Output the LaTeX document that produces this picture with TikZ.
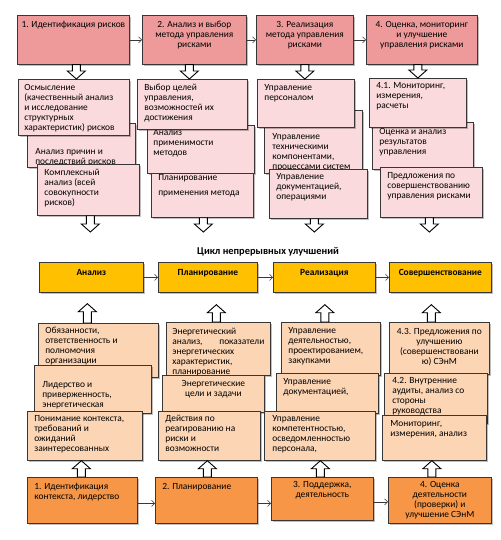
\documentclass[tikz,border=0pt]{standalone}
\usepackage{fontspec}
\setmainfont{Carlito}
\usetikzlibrary{shadows,arrows.meta,calc}
\definecolor{redbox}{RGB}{238,154,154}
\definecolor{pinkbox}{RGB}{250,218,220}
\definecolor{peachbox}{RGB}{252,213,180}
\definecolor{yellowbox}{RGB}{255,192,0}
\definecolor{orangebox}{RGB}{247,150,70}
\definecolor{bordc}{RGB}{55,55,55}
\tikzset{
  base/.style={draw=bordc, line width=0.7pt, anchor=north west,
    drop shadow={shadow xshift=1.5pt, shadow yshift=-1.5pt, fill=black, opacity=0.25},
    font=\fontsize{9.4}{10}\selectfont},
  redb/.style={base, fill=redbox},
  pinkb/.style={base, fill=pinkbox},
  peachb/.style={base, fill=peachbox},
  yellowb/.style={base, fill=yellowbox, font=\fontsize{9.4}{10}\selectfont\bfseries},
  orangeb/.style={base, fill=orangebox},
  blockarrow/.style={draw=black, fill=white, line width=0.9pt, line join=miter},
  smallarrow/.style={draw=bordc, line width=0.6pt, -{Straight Barb[length=3pt,width=6pt]}},
}
% #1 style, #2 name, #3 x, #4 y, #5 w, #6 h, #7 side inset, #8 text, #9 top pad
\newcommand\bx[9]{\node[#1, inner xsep=#7pt, inner ysep=0pt] (#2) at (#3,#4)
  {\parbox[c][#6pt][t]{\dimexpr #5pt-#7pt-#7pt\relax}{\vspace*{#9pt}\raggedright\strut#8}};}
\newcommand\barrdown[2]{\draw[blockarrow] let \p1=(#1), \p2=(#2) in
  (\x1-4pt,\y1) -- (\x1+4pt,\y1) -- (\x1+4pt,\y2+8pt) -- (\x1+9pt,\y2+8pt) -- (\x1,\y2)
  -- (\x1-9pt,\y2+8pt) -- (\x1-4pt,\y2+8pt) -- cycle;}
\newcommand\barrup[2]{\draw[blockarrow] let \p1=(#1), \p2=(#2) in
  (\x1-4pt,\y1) -- (\x1+4pt,\y1) -- (\x1+4pt,\y2-8pt) -- (\x1+9pt,\y2-8pt) -- (\x1,\y2)
  -- (\x1-9pt,\y2-8pt) -- (\x1-4pt,\y2-8pt) -- cycle;}
\begin{document}
\begin{tikzpicture}[x=1pt,y=-1pt]
\useasboundingbox[fill=white] (0,0) rectangle (500,540);
% ---- top red row
\bx{redb}{R1}{17}{15}{112}{49}{3}{\centering 1. Идентификация рисков}{5.4}
\bx{redb}{R2}{142}{15}{104}{49}{3}{\centering 2. Анализ и выбор\\ метода управления\\ рисками}{5.4}
\bx{redb}{R3}{256}{15}{97}{49}{3}{\centering 3. Реализация\\ метода управления\\ рисками}{5.4}
\bx{redb}{R4}{366}{15}{111}{49}{3}{\centering 4. Оценка, мониторинг\\ и улучшение\\ управления рисками}{5.4}
\draw[smallarrow] (R1.east) -- (R2.west);
\draw[smallarrow] (R2.east) -- (R3.west);
\draw[smallarrow] (R3.east) -- (R4.west);
% ---- pink columns
\bx{pinkb}{A2}{27}{123}{108}{44}{8}{Анализ причин и\\ последствий рисков}{24.4}
\bx{pinkb}{A1}{18}{79}{111}{56}{6}{Осмысление\\ (качественный анализ\\ и исследование\\ структурных\\ характеристик) рисков}{4.4}
\bx{pinkb}{A3}{37}{164}{102}{51}{7}{Комплексный\\ анализ (всей\\ совокупности\\ рисков)}{4.4}
\bx{pinkb}{B2}{147}{125}{107}{48}{6}{Анализ\\ применимости\\ методов}{3.4}
\bx{pinkb}{B1}{137}{79}{110}{50}{7}{Выбор целей\\ управления,\\ возможностей их\\ достижения}{4.4}
\bx{pinkb}{B3}{151}{173}{102}{44}{7}{Планирование\\[5pt] применения метода}{0.6}
\bx{pinkb}{C2}{264}{110}{98}{63}{8}{Управление\\ техническими\\ компонентами,\\ процессами систем}{22.4}
\bx{pinkb}{C1}{257}{79}{97}{48}{7}{Управление\\ персоналом}{4.4}
\bx{pinkb}{C3}{269}{169}{98}{49}{7}{Управление\\ документацией,\\ операциями}{3.4}
\bx{pinkb}{D2}{372}{122}{101}{47}{7}{Оценка и анализ\\ результатов\\ управления}{5.4}
\bx{pinkb}{D1}{369}{78}{97}{49}{7}{4.1. Мониторинг,\\ измерения,\\ расчеты}{3.4}
\bx{pinkb}{D3}{380}{167}{102}{50}{7}{Предложения по\\ совершенствованию\\ управления рисками}{4.4}
\barrdown{[xshift=3pt]R1.south}{A1.north}
\barrdown{[xshift=-5pt]R2.south}{B1.north}
\barrdown{[xshift=0pt]R3.south}{C1.north}
\barrdown{[xshift=-4pt]R4.south}{D1.north}
\coordinate (eA) at (90,232);
\coordinate (eB) at (203,232);
\coordinate (eC) at (314,232);
\coordinate (eD) at (429,232);
\barrdown{[xshift=2pt]A3.south}{eA}
\barrdown{[xshift=1pt]B3.south}{eB}
\barrdown{[xshift=-4pt]C3.south}{eC}
\barrdown{[xshift=-2pt]D3.south}{eD}
% ---- title
\node[font=\fontsize{10.4}{11}\selectfont\bfseries] (title) at (268,252) {Цикл непрерывных улучшений};
% ---- yellow row
\bx{yellowb}{Y1}{39}{262}{104}{30}{3}{\centering Анализ}{6.4}
\bx{yellowb}{Y2}{158}{262}{99}{30}{3}{\centering Планирование}{6.4}
\bx{yellowb}{Y3}{273}{262}{102}{30}{3}{\centering Реализация}{6.4}
\bx{yellowb}{Y4}{389}{262}{102}{30}{3}{\centering Совершенствование}{6.4}
\draw[smallarrow] (Y1.east) -- (Y2.west);
\draw[smallarrow] (Y2.east) -- (Y3.west);
\draw[smallarrow] (Y3.east) -- (Y4.west);
% ---- peach columns
\bx{peachb}{E1}{38}{323}{120}{54}{7}{Обязанности,\\ ответственность и\\ полномочия\\ организации}{3.4}
\bx{peachb}{E2}{34}{365}{117}{48}{8}{Лидерство и\\ приверженность,\\ энергетическая}{15.4}
\bx{peachb}{E3}{27}{411}{115}{49}{7}{Понимание контекста,\\ требований и\\ ожиданий\\ заинтересованных}{3.4}
\bx{peachb}{F1}{166}{322}{104}{53}{6}{Энергетический\\ анализ,\hfill показатели\\ энергетических\\ характеристик,\\ планирование}{5}
\bx{peachb}{F2}{162}{375}{102}{37}{4}{\centering Энергетические\\ цели и задачи}{4.4}
\bx{peachb}{F3}{158}{411}{102}{49}{7}{Действия по\\ реагированию на\\ риски и\\ возможности}{3.4}
\bx{peachb}{G1}{281}{322}{99}{53}{7}{Управление\\ деятельностью,\\ проектированием,\\ закупками}{4.4}
\bx{peachb}{G2}{276}{373}{102}{40}{7}{Управление\\ документацией,}{4.4}
\bx{peachb}{G3}{264}{411}{111}{49}{8}{Управление\\ компетентностью,\\ осведомленностью\\ персонала,}{3.4}
\bx{peachb}{H1}{389}{322}{100}{52}{3}{\centering 4.3. Предложения по\\ улучшению\\ (совершенствовани\\ ю) СЭнМ}{5}
\bx{peachb}{H2}{384}{373}{103}{50}{8}{4.2. Внутренние\\ аудиты, анализ со\\ стороны\\ руководства}{3.4}
\bx{peachb}{H3}{382}{415}{104}{45}{8}{Мониторинг,\\ измерения, анализ}{4.4}
\barrup{[xshift=-11pt]E1.north}{[yshift=-11pt]Y1.south}
\barrup{[xshift=-2pt]F1.north}{[yshift=-12pt]Y2.south}
\barrup{[xshift=-6pt]G1.north}{[yshift=-12pt]Y3.south}
\barrup{[xshift=-8pt]H1.north}{[yshift=-12pt]Y4.south}
% ---- orange row
\bx{orangeb}{O1}{27}{477}{110}{46}{7}{1. Идентификация\\ контекста, лидерство}{5.4}
\bx{orangeb}{O2}{155}{477}{102}{46}{7}{2. Планирование}{5.4}
\bx{orangeb}{O3}{271}{477}{102}{43}{3}{\centering 3. Поддержка,\\ деятельность}{3.4}
\bx{orangeb}{O4}{388}{477}{103}{46}{3}{\centering 4. Оценка\\ деятельности\\ (проверки) и\\ улучшение СЭнМ}{3}
\draw[smallarrow] ([yshift=-3pt]O1.east) -- ([yshift=-3pt]O1.east -| O2.west);
\draw[smallarrow] ([yshift=-3pt]O2.east) -- ([yshift=-3pt]O2.east -| O3.west);
\draw[smallarrow] ([yshift=-3pt]O3.east -| O3.east) -- ([yshift=-3pt]O3.east -| O4.west);
\barrup{[xshift=-1pt]O1.north}{E3.south}
\barrup{[xshift=1pt]O2.north}{F3.south}
\barrup{[xshift=-2pt]O3.north}{G3.south}
\barrup{[xshift=-8pt]O4.north}{H3.south}
\end{tikzpicture}
\end{document}
